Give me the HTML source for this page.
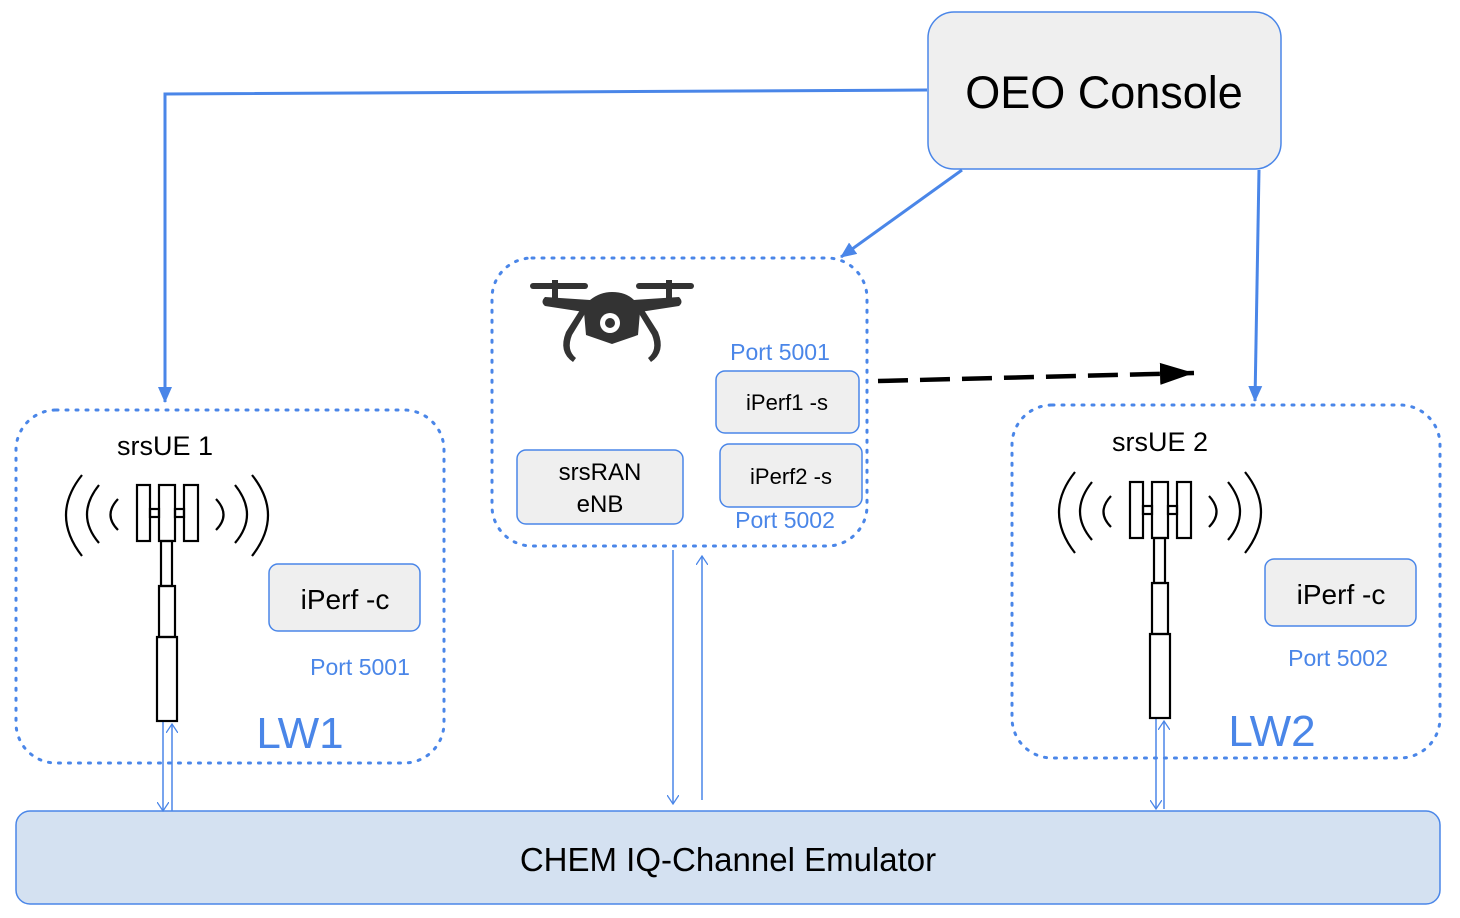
<!DOCTYPE html>
<html><head><meta charset="utf-8"><style>
html,body{margin:0;padding:0;background:#fff}
svg{display:block}
text{font-family:"Liberation Sans",Arial,sans-serif}
</style></head><body>
<svg width="1460" height="918" viewBox="0 0 1460 918" xmlns="http://www.w3.org/2000/svg">
<defs>
<marker id="ab2" markerWidth="16" markerHeight="16" refX="15" refY="8" orient="auto" markerUnits="userSpaceOnUse"><path d="M0,1 L16,8 L0,15 z" fill="#4a86e8"/></marker>
<marker id="ak" markerWidth="36" markerHeight="26" refX="34" refY="13" orient="auto" markerUnits="userSpaceOnUse"><path d="M0,2 L34,13 L0,24 z" fill="#000"/></marker>
<marker id="ao" markerWidth="10" markerHeight="12" refX="9" refY="6" orient="auto" markerUnits="userSpaceOnUse"><path d="M0,0 L9,6 L0,12" fill="none" stroke="#4a86e8" stroke-width="1.3"/></marker>
<g id="ant" fill="none" stroke="#000" stroke-width="2.2">
<rect x="137" y="485" width="13" height="56" fill="#fff"/>
<rect x="159" y="485" width="16" height="56" fill="#fff"/>
<rect x="184" y="485" width="14" height="56" fill="#fff"/>
<rect x="150" y="509" width="9" height="8"/>
<rect x="175" y="509" width="9" height="8"/>
<rect x="161" y="541" width="11" height="45"/>
<rect x="159" y="586" width="16" height="51"/>
<rect x="157" y="637" width="20" height="84"/>
<path d="M82,475 Q50,515 82,556"/>
<path d="M99,485 Q75,515 99,543"/>
<path d="M118,499 Q103,515 118,530"/>
<path d="M252,475 Q284,515 252,556"/>
<path d="M235,485 Q259,515 235,543"/>
<path d="M216,499 Q231,515 216,530"/>
</g>
</defs>

<rect x="16" y="410" width="428" height="353" rx="40" fill="none" stroke="#4a86e8" stroke-width="3" stroke-dasharray="2,8" stroke-linecap="round"/>
<rect x="492" y="258" width="375" height="288" rx="40" fill="none" stroke="#4a86e8" stroke-width="3" stroke-dasharray="2,8" stroke-linecap="round"/>
<rect x="1012" y="405" width="428" height="353" rx="40" fill="none" stroke="#4a86e8" stroke-width="3" stroke-dasharray="2,8" stroke-linecap="round"/>

<rect x="928" y="12" width="353" height="157" rx="26" fill="#efefef" stroke="#4a86e8" stroke-width="1.5"/>
<text x="1104" y="108" font-size="45" text-anchor="middle">OEO Console</text>

<path d="M927,90 L165,94 L165,402" fill="none" stroke="#4a86e8" stroke-width="3" marker-end="url(#ab2)"/>
<path d="M962,170 L841,257" fill="none" stroke="#4a86e8" stroke-width="3" marker-end="url(#ab2)"/>
<path d="M1259,170 L1255,401" fill="none" stroke="#4a86e8" stroke-width="3" marker-end="url(#ab2)"/>
<path d="M878,381 L1194,373" fill="none" stroke="#000" stroke-width="4.5" stroke-dasharray="30,12" marker-end="url(#ak)"/>

<rect x="16" y="811" width="1424" height="93" rx="14" fill="#d4e1f1" stroke="#4a86e8" stroke-width="1.5"/>
<text x="728" y="871" font-size="33" text-anchor="middle">CHEM IQ-Channel Emulator</text>

<g stroke="#4a86e8" stroke-width="1.5" fill="none">
<path d="M163,722 L163,811" marker-end="url(#ao)"/>
<path d="M172,811 L172,724" marker-end="url(#ao)"/>
<path d="M673,550 L673,804" marker-end="url(#ao)"/>
<path d="M702,800 L702,556" marker-end="url(#ao)"/>
<path d="M1156,718 L1156,809" marker-end="url(#ao)"/>
<path d="M1164,809 L1164,721" marker-end="url(#ao)"/>
</g>

<use href="#ant"/>
<use href="#ant" transform="translate(993,-3)"/>

<g fill="#333">
<rect x="530" y="283" width="58" height="6" rx="3"/>
<rect x="636" y="283" width="58" height="6" rx="3"/>
<rect x="552" y="280" width="6" height="18"/>
<rect x="666" y="280" width="6" height="18"/>
<path d="M545,297 L590,300 Q600,292 612,292 Q626,292 634,300 L679,297 Q684,302 679,306 L640,312 L638,335 L612,344 L586,335 L584,312 L545,306 Q540,302 545,297 z"/>
<path d="M586,312 L572,335 Q566,350 576,358 L573,362 Q558,352 566,332 L580,310 z"/>
<path d="M638,312 L652,335 Q658,350 648,358 L651,362 Q666,352 658,332 L644,310 z"/>
<circle cx="610" cy="323" r="10" fill="#fff"/>
<circle cx="610" cy="323" r="5"/>
</g>

<g fill="#efefef" stroke="#4a86e8" stroke-width="1.5">
<rect x="269" y="564" width="151" height="67" rx="9"/>
<rect x="517" y="450" width="166" height="74" rx="9"/>
<rect x="716" y="371" width="143" height="62" rx="9"/>
<rect x="720" y="444" width="142" height="63" rx="9"/>
<rect x="1265" y="559" width="151" height="67" rx="9"/>
</g>
<g font-size="24" text-anchor="middle" fill="#000">
<text x="345" y="609" font-size="28">iPerf -c</text>
<text x="600" y="480">srsRAN</text>
<text x="600" y="512">eNB</text>
<text x="787" y="410" font-size="22">iPerf1 -s</text>
<text x="791" y="484" font-size="22">iPerf2 -s</text>
<text x="1341" y="604" font-size="28">iPerf -c</text>
<text x="165" y="455" font-size="27">srsUE 1</text>
<text x="1160" y="451" font-size="27">srsUE 2</text>
</g>
<g fill="#4a86e8" text-anchor="middle">
<text x="780" y="360" font-size="23">Port 5001</text>
<text x="785" y="528" font-size="23">Port 5002</text>
<text x="360" y="675" font-size="23">Port 5001</text>
<text x="1338" y="666" font-size="23">Port 5002</text>
<text x="300" y="748" font-size="44">LW1</text>
<text x="1272" y="746" font-size="44">LW2</text>
</g>
</svg>
</body></html>
